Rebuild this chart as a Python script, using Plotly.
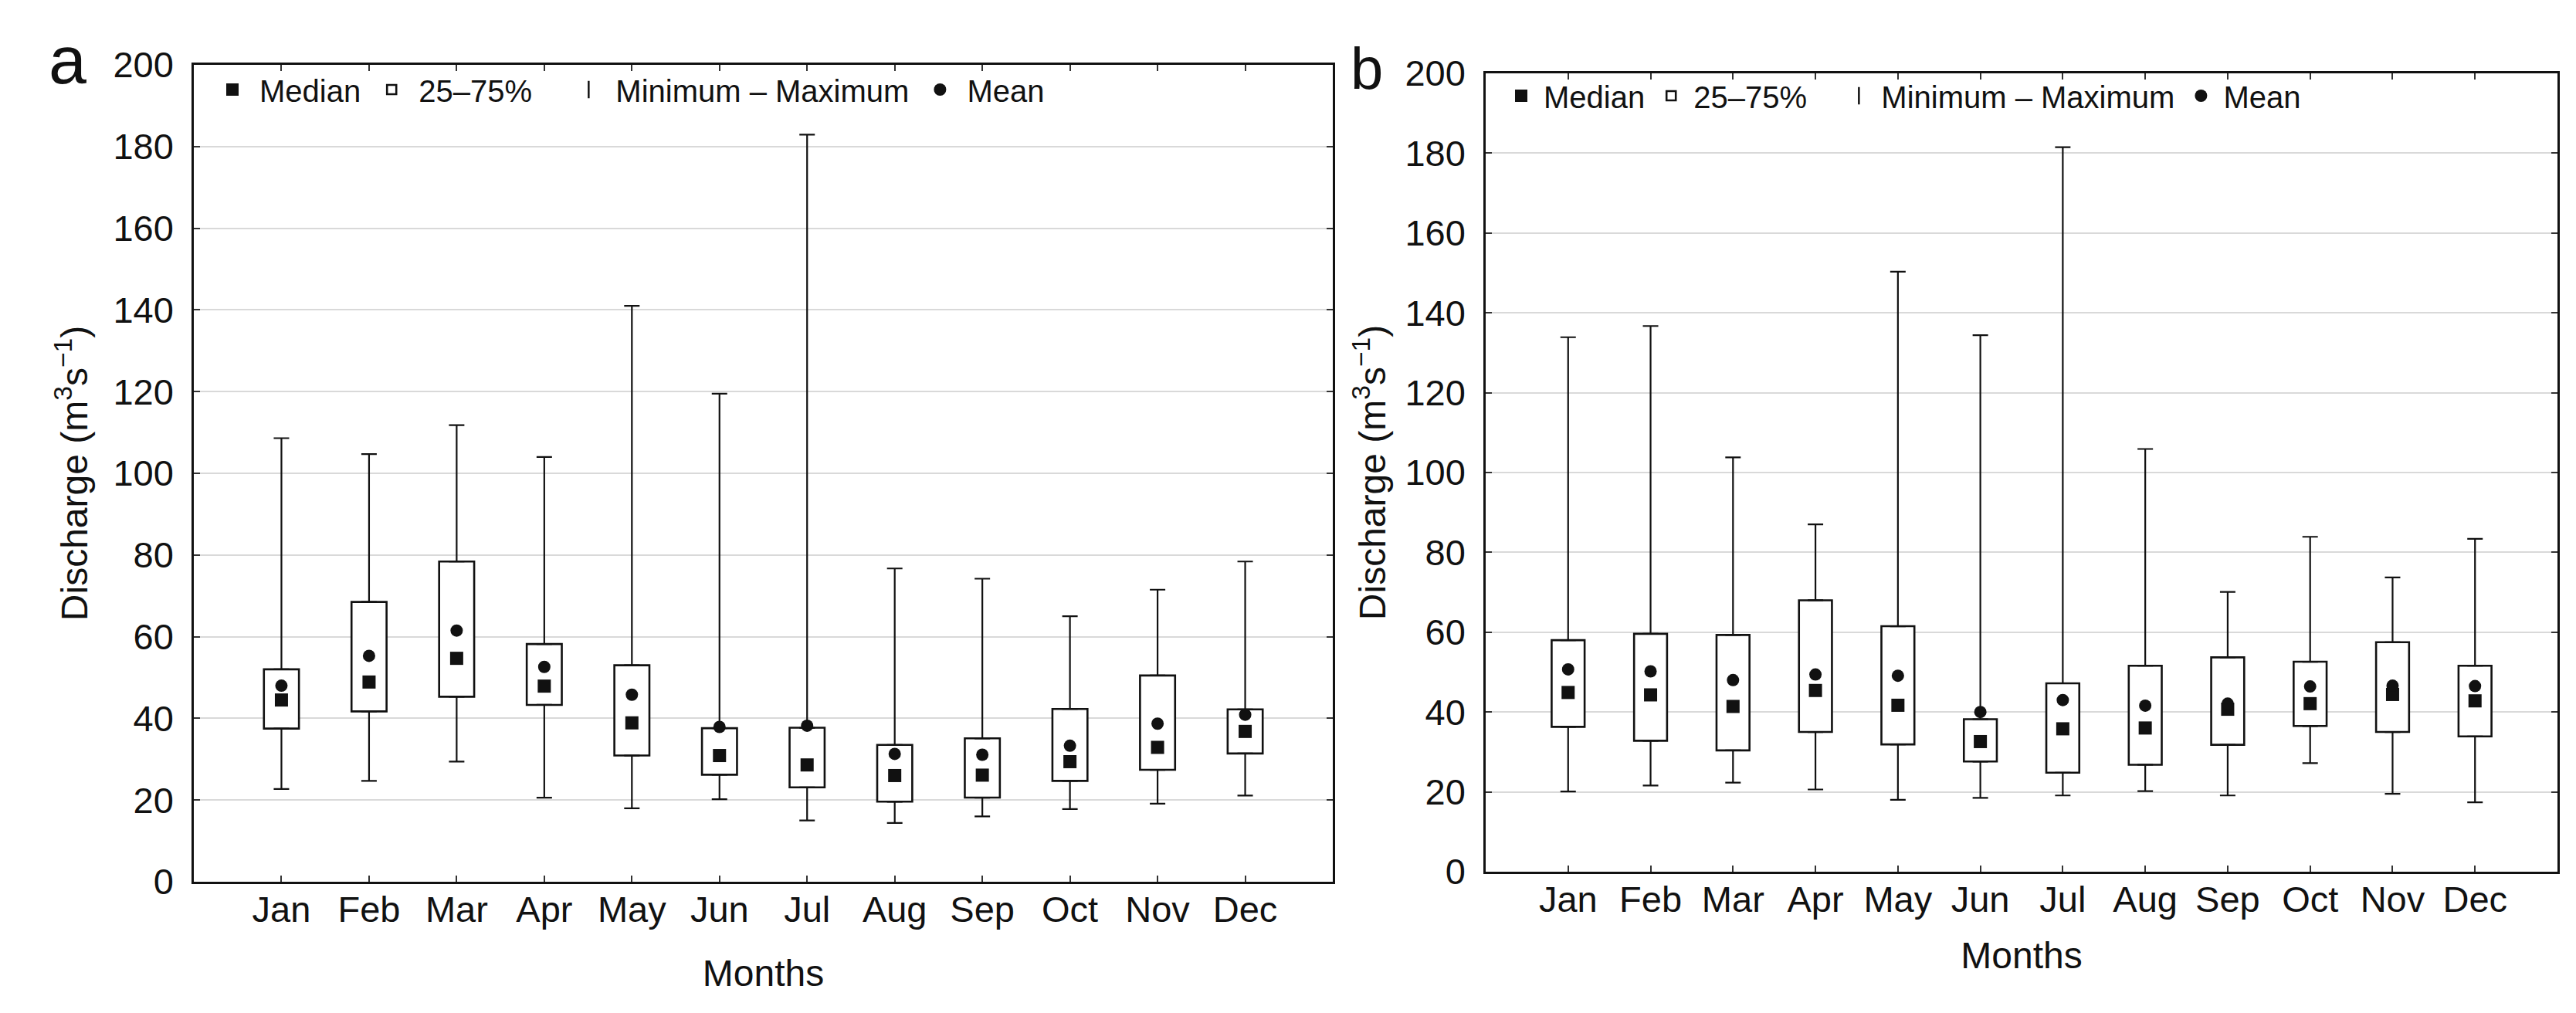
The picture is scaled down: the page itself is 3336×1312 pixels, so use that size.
import plotly.graph_objects as go

MONTHS = ["Jan", "Feb", "Mar", "Apr", "May", "Jun", "Jul", "Aug", "Sep", "Oct", "Nov", "Dec"]
Y_TICKS = [0, 20, 40, 60, 80, 100, 120, 140, 160, 180, 200]

# Panel a
A_MIN = [22.7, 24.7, 29.4, 20.6, 18.0, 20.2, 15.0, 14.4, 16.0, 17.8, 19.1, 21.1]
A_Q1 = [37.5, 41.7, 45.3, 43.3, 30.9, 26.2, 23.1, 19.6, 20.6, 24.7, 27.4, 31.4]
A_MEDIAN = [44.5, 48.9, 54.7, 47.9, 38.9, 30.9, 28.6, 26.0, 26.1, 29.4, 32.9, 36.8]
A_Q3 = [52.0, 68.5, 78.4, 58.2, 53.0, 37.6, 37.7, 33.5, 35.1, 42.3, 50.5, 42.2]
A_MAX = [108.6, 104.7, 111.8, 104.0, 141.0, 119.5, 182.9, 76.7, 74.2, 65.0, 71.5, 78.4]
A_MEAN = [48.0, 55.3, 61.5, 52.6, 45.8, 37.9, 38.2, 31.3, 31.1, 33.3, 38.7, 40.9]

# Panel b
B_MIN = [20.1, 21.6, 22.3, 20.6, 18.0, 18.5, 19.1, 20.2, 19.1, 27.2, 19.5, 17.4]
B_Q1 = [36.3, 32.8, 30.4, 35.0, 31.9, 27.6, 24.8, 26.8, 31.8, 36.5, 35.0, 33.9]
B_MEDIAN = [44.9, 44.3, 41.4, 45.4, 41.7, 32.6, 35.8, 36.0, 40.7, 42.1, 44.4, 42.8]
B_Q3 = [58.0, 59.6, 59.3, 68.0, 61.5, 38.2, 47.2, 51.6, 53.7, 52.6, 57.5, 51.6]
B_MAX = [133.9, 136.7, 103.8, 87.0, 150.3, 134.4, 181.5, 105.9, 70.1, 83.9, 73.7, 83.4]
B_MEAN = [50.7, 50.2, 48.0, 49.4, 49.1, 40.0, 43.0, 41.6, 42.1, 46.4, 46.6, 46.5]

LEGEND_NAMES = ["Median", "25\u201375%\u00a0\u00a0\u00a0", "Minimum \u2013 Maximum", "Mean"]

FONT = "Liberation Sans, Arial, sans-serif"
INK = "#111111"

fig = go.Figure()


def add_panel(xa, ya, legend, mn, q1, med, q3, mx, mean):
    # Median markers
    fig.add_trace(go.Scatter(
        x=MONTHS, y=med, mode="markers", name=LEGEND_NAMES[0],
        marker=dict(symbol="square", size=17, color=INK),
        xaxis=xa, yaxis=ya, legend=legend, showlegend=True))
    # Boxes (25-75%)
    fig.add_trace(go.Bar(
        x=MONTHS, y=[b - a for a, b in zip(q1, q3)], base=q1, width=0.40,
        name=LEGEND_NAMES[1],
        marker=dict(color="white", line=dict(color=INK, width=2.6)),
        xaxis=xa, yaxis=ya, legend=legend, showlegend=True))
    # Legend entry for min-max whiskers
    fig.add_trace(go.Scatter(
        x=[None], y=[None], mode="markers", name=LEGEND_NAMES[2],
        marker=dict(symbol="line-ns-open", size=16, color=INK,
                    line=dict(color=INK, width=2.5)),
        xaxis=xa, yaxis=ya, legend=legend, showlegend=True))
    # Mean markers
    fig.add_trace(go.Scatter(
        x=MONTHS, y=mean, mode="markers", name=LEGEND_NAMES[3],
        marker=dict(symbol="circle", size=16, color=INK),
        xaxis=xa, yaxis=ya, legend=legend, showlegend=True))
    # Upper whiskers: Q3 -> max
    fig.add_trace(go.Scatter(
        x=MONTHS, y=q3, mode="markers",
        marker=dict(size=1, color="rgba(0,0,0,0)"),
        error_y=dict(type="data", symmetric=False,
                     array=[b - a for a, b in zip(q3, mx)],
                     arrayminus=[0] * len(q3),
                     color=INK, thickness=2.2, width=10),
        xaxis=xa, yaxis=ya, showlegend=False, hoverinfo="skip"))
    # Lower whiskers: min -> Q1
    fig.add_trace(go.Scatter(
        x=MONTHS, y=q1, mode="markers",
        marker=dict(size=1, color="rgba(0,0,0,0)"),
        error_y=dict(type="data", symmetric=False,
                     array=[0] * len(q1),
                     arrayminus=[a - b for a, b in zip(q1, mn)],
                     color=INK, thickness=2.2, width=10),
        xaxis=xa, yaxis=ya, showlegend=False, hoverinfo="skip"))


add_panel("x", "y", "legend", A_MIN, A_Q1, A_MEDIAN, A_Q3, A_MAX, A_MEAN)
add_panel("x2", "y2", "legend2", B_MIN, B_Q1, B_MEDIAN, B_Q3, B_MAX, B_MEAN)

W, H = 3336, 1312


def xaxis_cfg(title_standoff):
    return dict(
        type="category", categoryorder="array", categoryarray=MONTHS,
        range=[-1, 12], showline=True, linecolor=INK, linewidth=2.5, mirror="ticks",
        ticks="inside", ticklen=8, tickwidth=2, tickcolor="#333333",
        showgrid=False, zeroline=False, automargin=False,
        tickfont=dict(family=FONT, size=47, color=INK),
        ticklabelstandoff=-7,
        title=dict(text="Months", font=dict(family=FONT, size=48, color=INK),
                   standoff=title_standoff),
    )


def yaxis_cfg(title_standoff):
    return dict(
        range=[0, 200], tickvals=Y_TICKS, ticktext=[str(v) for v in Y_TICKS],
        showline=True, linecolor=INK, linewidth=2.5, mirror="ticks",
        ticks="inside", ticklen=8, tickwidth=2, tickcolor="#333333",
        showgrid=True, gridcolor="#d9d9d9", gridwidth=2, zeroline=False, automargin=False,
        tickfont=dict(family=FONT, size=47, color=INK),
        ticklabelstandoff=14,
        title=dict(text="Discharge (m<sup>3</sup>s<sup>\u22121</sup>)",
                   font=dict(family=FONT, size=48, color=INK), standoff=title_standoff),
    )


def legend_cfg(x, y, itemwidth):
    return dict(
        x=x, y=y, orientation="h", xanchor="left", yanchor="middle",
        font=dict(family=FONT, size=40, color=INK),
        bgcolor="rgba(0,0,0,0)", borderwidth=0, itemsizing="trace",
        itemwidth=itemwidth, traceorder="normal",
    )


fig.update_layout(
    width=W, height=H,
    margin=dict(l=0, r=0, t=0, b=0),
    paper_bgcolor="white", plot_bgcolor="white",
    font=dict(family=FONT, color=INK),
    barmode="overlay",
    xaxis=dict(domain=[243 / W, 1718 / W], anchor="y", **xaxis_cfg(41)),
    yaxis=dict(domain=[(H - 1134) / H, (H - 76) / H], anchor="x", **yaxis_cfg(18)),
    xaxis2=dict(domain=[1916 / W, 3304 / W], anchor="y2", **xaxis_cfg(31)),
    yaxis2=dict(domain=[(H - 1121) / H, (H - 87) / H], anchor="x2", **yaxis_cfg(10)),
    legend=legend_cfg(258 / W, (H - 108) / H, 60),
    legend2=legend_cfg(1933 / W, (H - 116) / H, 48),
    annotations=[
        dict(text="a", x=79 / W, y=(H - 69) / H, xref="paper", yref="paper",
             xanchor="center", yanchor="middle", showarrow=False,
             font=dict(family=FONT, size=88, color=INK)),
        dict(text="b", x=1762 / W, y=(H - 80) / H, xref="paper", yref="paper",
             xanchor="center", yanchor="middle", showarrow=False,
             font=dict(family=FONT, size=76, color=INK)),
    ],
)

fig.write_html("out.html")
